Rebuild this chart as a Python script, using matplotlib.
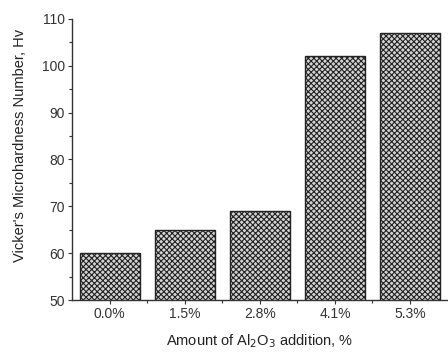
import matplotlib
matplotlib.use("Agg")
import matplotlib.pyplot as plt
from matplotlib.ticker import MultipleLocator, FixedLocator

categories = ["0.0%", "1.5%", "2.8%", "4.1%", "5.3%"]
hardness = [60, 65, 69, 102, 107]

plt.rcParams['font.family'] = ['Liberation Sans', 'DejaVu Sans']
plt.rcParams['hatch.linewidth'] = 0.8

fig = plt.figure(figsize=(4.48, 3.56), dpi=100)
ax = fig.add_axes([0.161, 0.157, 0.838, 0.79])

x = list(range(len(categories)))
ax.bar(x, hardness, width=0.8, bottom=0, color="#d4d4d4", edgecolor="#222222",
       hatch="xxxxxx", linewidth=1.0)

ax.set_ylim(50, 110)
ax.set_xlim(-0.5, 4.5)
ax.yaxis.set_major_locator(MultipleLocator(10))
ax.yaxis.set_minor_locator(MultipleLocator(5))
ax.set_xticks(x)
ax.set_xticklabels(categories)
ax.xaxis.set_minor_locator(FixedLocator([0.5, 1.5, 2.5, 3.5]))

for s in ["top", "right"]:
    ax.spines[s].set_visible(False)
for s in ["left", "bottom"]:
    ax.spines[s].set_linewidth(1.0)
    ax.spines[s].set_color("#333333")

ax.tick_params(axis="both", which="major", direction="out", length=3, width=0.8,
               labelsize=10, colors="#333333", pad=2)
ax.tick_params(axis="both", which="minor", direction="out", length=2, width=0.8,
               colors="#333333")

ax.set_ylabel("Vicker's Microhardness Number, Hv", fontsize=10.5, color="#222222")
ax.yaxis.set_label_coords(-0.12, 0.55)
ax.set_xlabel("Amount of Al$_2$O$_3$ addition, %", fontsize=10.5, color="#222222", labelpad=8)

fig.savefig("out.png", dpi=100)
